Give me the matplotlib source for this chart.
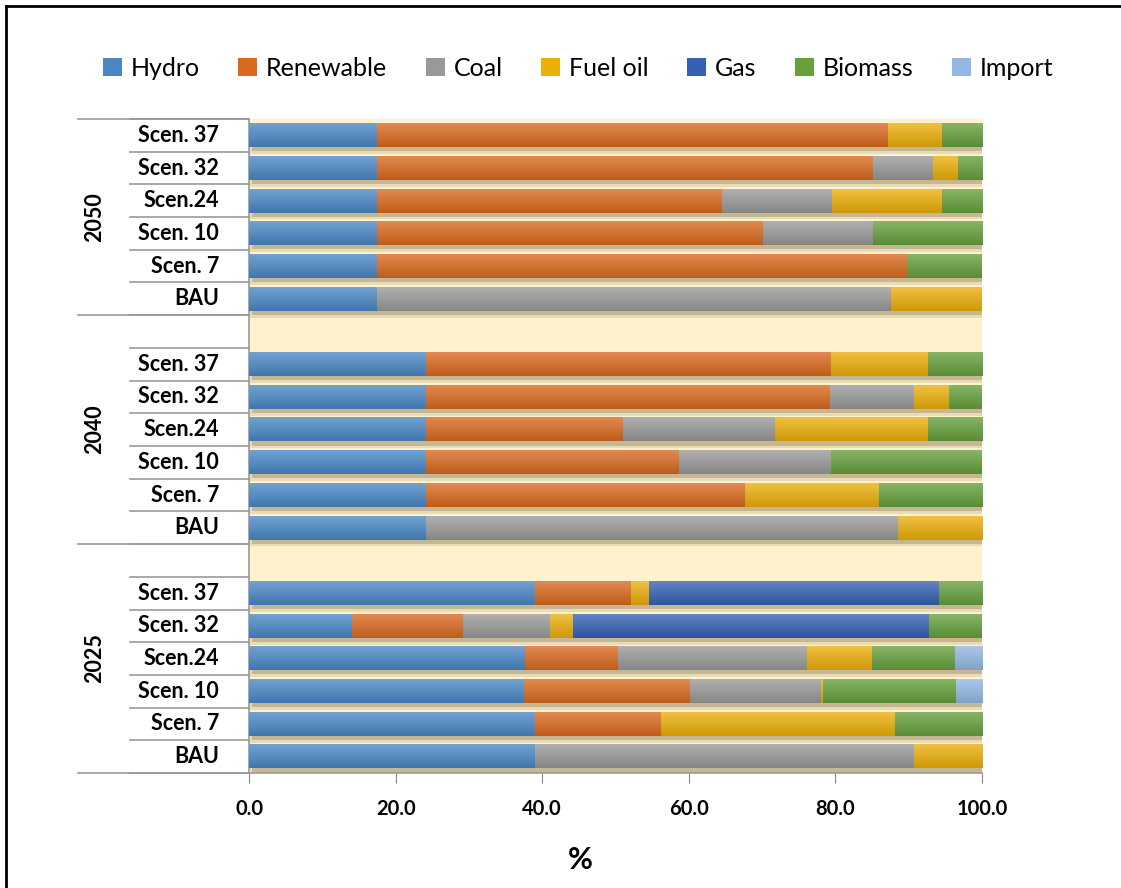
import numpy as np
import matplotlib.pyplot as plt
import matplotlib.patheffects as pe
from matplotlib.colors import to_rgb
from matplotlib.patches import Patch
from matplotlib.lines import Line2D
from matplotlib.transforms import blended_transform_factory

plt.rcParams['font.family'] = ['Lato', 'DejaVu Sans']

years = ["2050", "2040", "2025"]
scenarios = ["Scen. 37", "Scen. 32", "Scen.24", "Scen. 10", "Scen. 7", "BAU"]
sources = ["Hydro", "Renewable", "Coal", "Fuel oil", "Gas", "Biomass", "Import"]

# shares in %, rows listed top to bottom: 2050 block, 2040 block, 2025 block
hydro = [17.5, 17.5, 17.5, 17.5, 17.5, 17.5,
         24.1, 24.1, 24.1, 24.1, 24.1, 24.1,
         39.0, 14.0, 37.7, 37.5, 39.0, 39.0]
renewable = [69.7, 67.6, 47.0, 52.6, 72.3, 0,
             55.3, 55.1, 26.9, 34.6, 43.6, 0,
             13.1, 15.2, 12.6, 22.7, 17.2, 0]
coal = [0, 8.2, 15.0, 15.0, 0, 70.1,
        0, 11.5, 20.8, 20.7, 0, 64.4,
        0, 11.9, 25.8, 17.8, 0, 51.7]
fuel_oil = [7.3, 3.4, 15.0, 0, 0, 12.4,
            13.2, 4.8, 20.8, 0, 18.2, 11.5,
            2.5, 3.1, 8.9, 0.3, 31.9, 9.3]
gas = [0, 0, 0, 0, 0, 0,
       0, 0, 0, 0, 0, 0,
       39.5, 48.6, 0, 0, 0, 0]
biomass = [5.5, 3.3, 5.5, 14.9, 10.2, 0,
           7.4, 4.5, 7.4, 20.6, 14.1, 0,
           5.9, 7.2, 11.3, 18.1, 11.9, 0]
imports = [0, 0, 0, 0, 0, 0,
           0, 0, 0, 0, 0, 0,
           0, 0, 3.7, 3.6, 0, 0]

colors = ['#4A87C5', '#D9691F', '#999999', '#EBAE0A', '#3461B3', '#65A03C', '#93B8E3']
series = [hydro, renewable, coal, fuel_oil, gas, biomass, imports]

W, H = 1121, 888
fig = plt.figure(figsize=(W / 100, H / 100), dpi=100)
ax = fig.add_axes([249 / W, 1 - 773 / H, (982 - 249) / W, (773 - 119) / H])
ax.set_facecolor('#FFF2CC')

# row positions: one blank row above the 2040 and 2025 blocks
ypos = []
for g in range(len(years)):
    for s in range(len(scenarios)):
        ypos.append(19 - s - 7 * g)
ypos = np.array(ypos, dtype=float)

bar_h = 0.72
shadow = [pe.SimplePatchShadow(offset=(1, -5), shadow_rgbFace='#4a3a1a', alpha=0.12),
          pe.SimplePatchShadow(offset=(2, -3), shadow_rgbFace='#4a3a1a', alpha=0.22),
          pe.Normal()]


def gradient(c):
    c = np.array(to_rgb(c))
    top = c + (1 - c) * 0.22
    bot = c * 0.88
    t = np.linspace(0, 1, 32)[:, None]
    img = top * (1 - t) + bot * t
    return img[:, None, :]


left = np.zeros(len(ypos))
for vals, col in zip(series, colors):
    vals = np.array(vals, dtype=float)
    bars = ax.barh(ypos, vals, left=left, height=bar_h, color=col, zorder=2)
    for b, v in zip(bars, vals):
        if v <= 0:
            b.set_visible(False)
            continue
        b.set_path_effects(shadow)
        x0, y0 = b.get_x(), b.get_y()
        ax.imshow(gradient(col), extent=(x0, x0 + b.get_width(), y0, y0 + bar_h),
                  aspect='auto', origin='upper', interpolation='bilinear', zorder=3)
    left += vals

ax.set_xlim(0, 100)
ax.set_ylim(-0.5, 19.5)
ax.set_xticks(np.arange(0, 101, 20))
ax.set_xticklabels([f"{v:.1f}" for v in np.arange(0, 101, 20)],
                   fontsize=14.5, fontweight='bold')
ax.tick_params(axis='x', length=7, color='#888888', direction='out', pad=12)
ax.set_yticks([])
for side in ['top', 'right']:
    ax.spines[side].set_visible(False)
for side in ['left', 'bottom']:
    ax.spines[side].set_color('#999999')
    ax.spines[side].set_linewidth(1.2)
ax.set_xlabel('%', fontsize=22, fontweight='bold')
ax.xaxis.set_label_coords((580 - 249) / (982 - 249), -(860 - 773) / (773 - 119))
ax.xaxis.label.set_va('center')

# multi-level category labels on the left
trans = blended_transform_factory(fig.transFigure, ax.transData)
x_axis = 249 / W
x_inner = 130 / W
x_outer = 78 / W
for y, lab in zip(ypos, scenarios * len(years)):
    fig.text(219 / W, y, lab, transform=trans, ha='right', va='center',
             fontsize=15.5, fontweight='bold')
inner_lines = [y + 0.5 for y in ypos] + [y - 0.5 for y in ypos]
for y in sorted(set(inner_lines)):
    fig.add_artist(Line2D([x_inner, x_axis], [y, y], transform=trans,
                          color='#999999', lw=1.2))
for y in [-0.5, 6.5, 13.5, 19.5]:
    fig.add_artist(Line2D([x_outer, x_axis], [y, y], transform=trans,
                          color='#999999', lw=1.2))
for yr, yc in zip(years, [16.5, 10.0, 3.0]):
    fig.text(95 / W, yc, yr, transform=trans, rotation=90, ha='center',
             va='center', fontsize=15.5, fontweight='bold')

handles = [Patch(facecolor=c, edgecolor='none') for c in colors]
fig.legend(handles, sources, loc='center', bbox_to_anchor=(578 / W, 1 - 68 / H),
           ncol=7, frameon=False, fontsize=18, handlelength=0.75, handleheight=0.75,
           handletextpad=0.35, columnspacing=1.55)

# outer frame (left and top edges)
fig.add_artist(Line2D([6 / W, 6 / W], [0, 1 - 6 / H], color='black', lw=2))
fig.add_artist(Line2D([6 / W, 1], [1 - 6 / H, 1 - 6 / H], color='black', lw=2))

fig.savefig('out.png', dpi=100)
